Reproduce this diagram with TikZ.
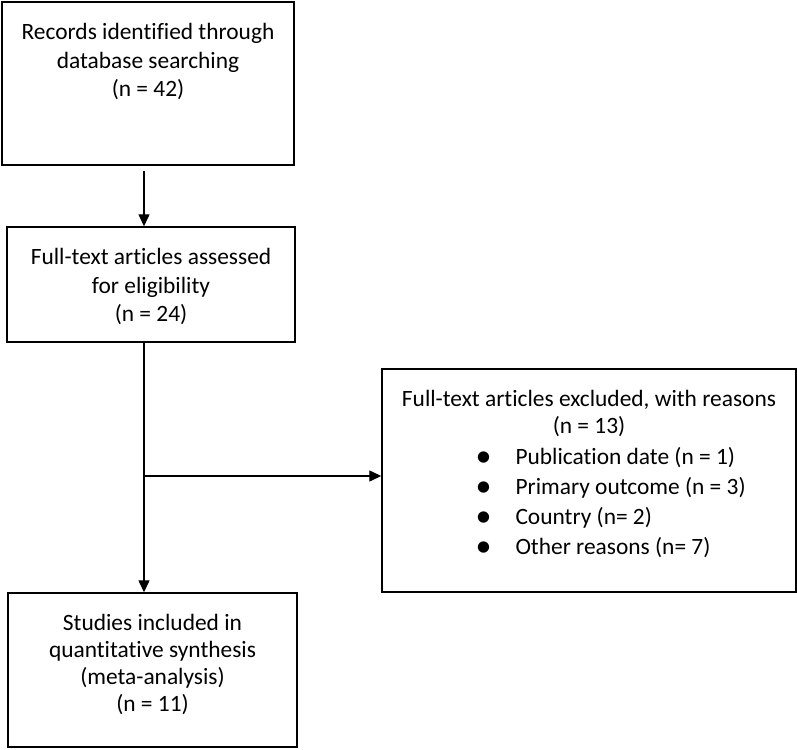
\documentclass[tikz,border=0pt]{standalone}
\usepackage{fontspec}
\setmainfont{Carlito}[Ligatures=CommonOff]
\usetikzlibrary{positioning,arrows.meta}
\newcommand{\bigdot}{\makebox[40pt][l]{\raisebox{-1.5pt}{\fontsize{32}{32}\selectfont•}}}

\begin{document}
\begin{tikzpicture}[x=1pt, y=1pt,
  box/.style={draw, line width=1.4pt, inner sep=0pt},
  txt/.style={align=center, inner sep=0pt, font=\fontsize{23.4}{28.5}\selectfont},
  arr/.style={line width=1.3pt, -{Triangle[length=12pt,width=11pt]}}]
  \useasboundingbox (0,0) rectangle (797,-749);
  % boxes
  \node[box, minimum width=292, minimum height=163] (records) at (148,-83.5) {};
  \node[box, minimum width=288, minimum height=115] (assessed) at (151,-284.5) {};
  \node[box, minimum width=289, minimum height=154] (included) at (152.5,-670) {};
  \node[box, minimum width=414, minimum height=223] (excluded) at (589,-480.5) {};
  % texts
  \node[txt, below=22pt of records.north] (records-t)
    {Records identified through\\database searching\\(n = 42)};
  \node[txt, below=22pt of assessed.north] (assessed-t)
    {Full-text articles assessed\\for eligibility\\(n = 24)};
  \node[txt, below=22pt of included.north, font=\fontsize{23.4}{27}\selectfont] (included-t)
    {Studies included in\\quantitative synthesis\\(meta-analysis)\\(n = 11)};
  \node[txt, below=22pt of excluded.north, font=\fontsize{23.4}{27}\selectfont] (excluded-t)
    {Full-text articles excluded, with reasons\\(n = 13)};
  \node[txt, align=left, anchor=north west, below right=79pt and 94pt of excluded.north west,
    font=\fontsize{23.4}{30}\selectfont] (reasons)
    {\bigdot Publication date (n = 1)\\
     \bigdot Primary outcome (n = 3)\\
     \bigdot Country (n= 2)\\
     \bigdot Other reasons (n= 7)};
  % connectors
  \coordinate (spine) at (144,0);
  \coordinate (fork) at (144,-476);
  \draw[arr, shorten <=5pt] (records.south -| spine) -- (assessed.north -| spine);
  \draw[arr] (assessed.south -| spine) -- (included.north -| spine);
  \draw[arr] (fork) -- (fork -| excluded.west);
\end{tikzpicture}
\end{document}
